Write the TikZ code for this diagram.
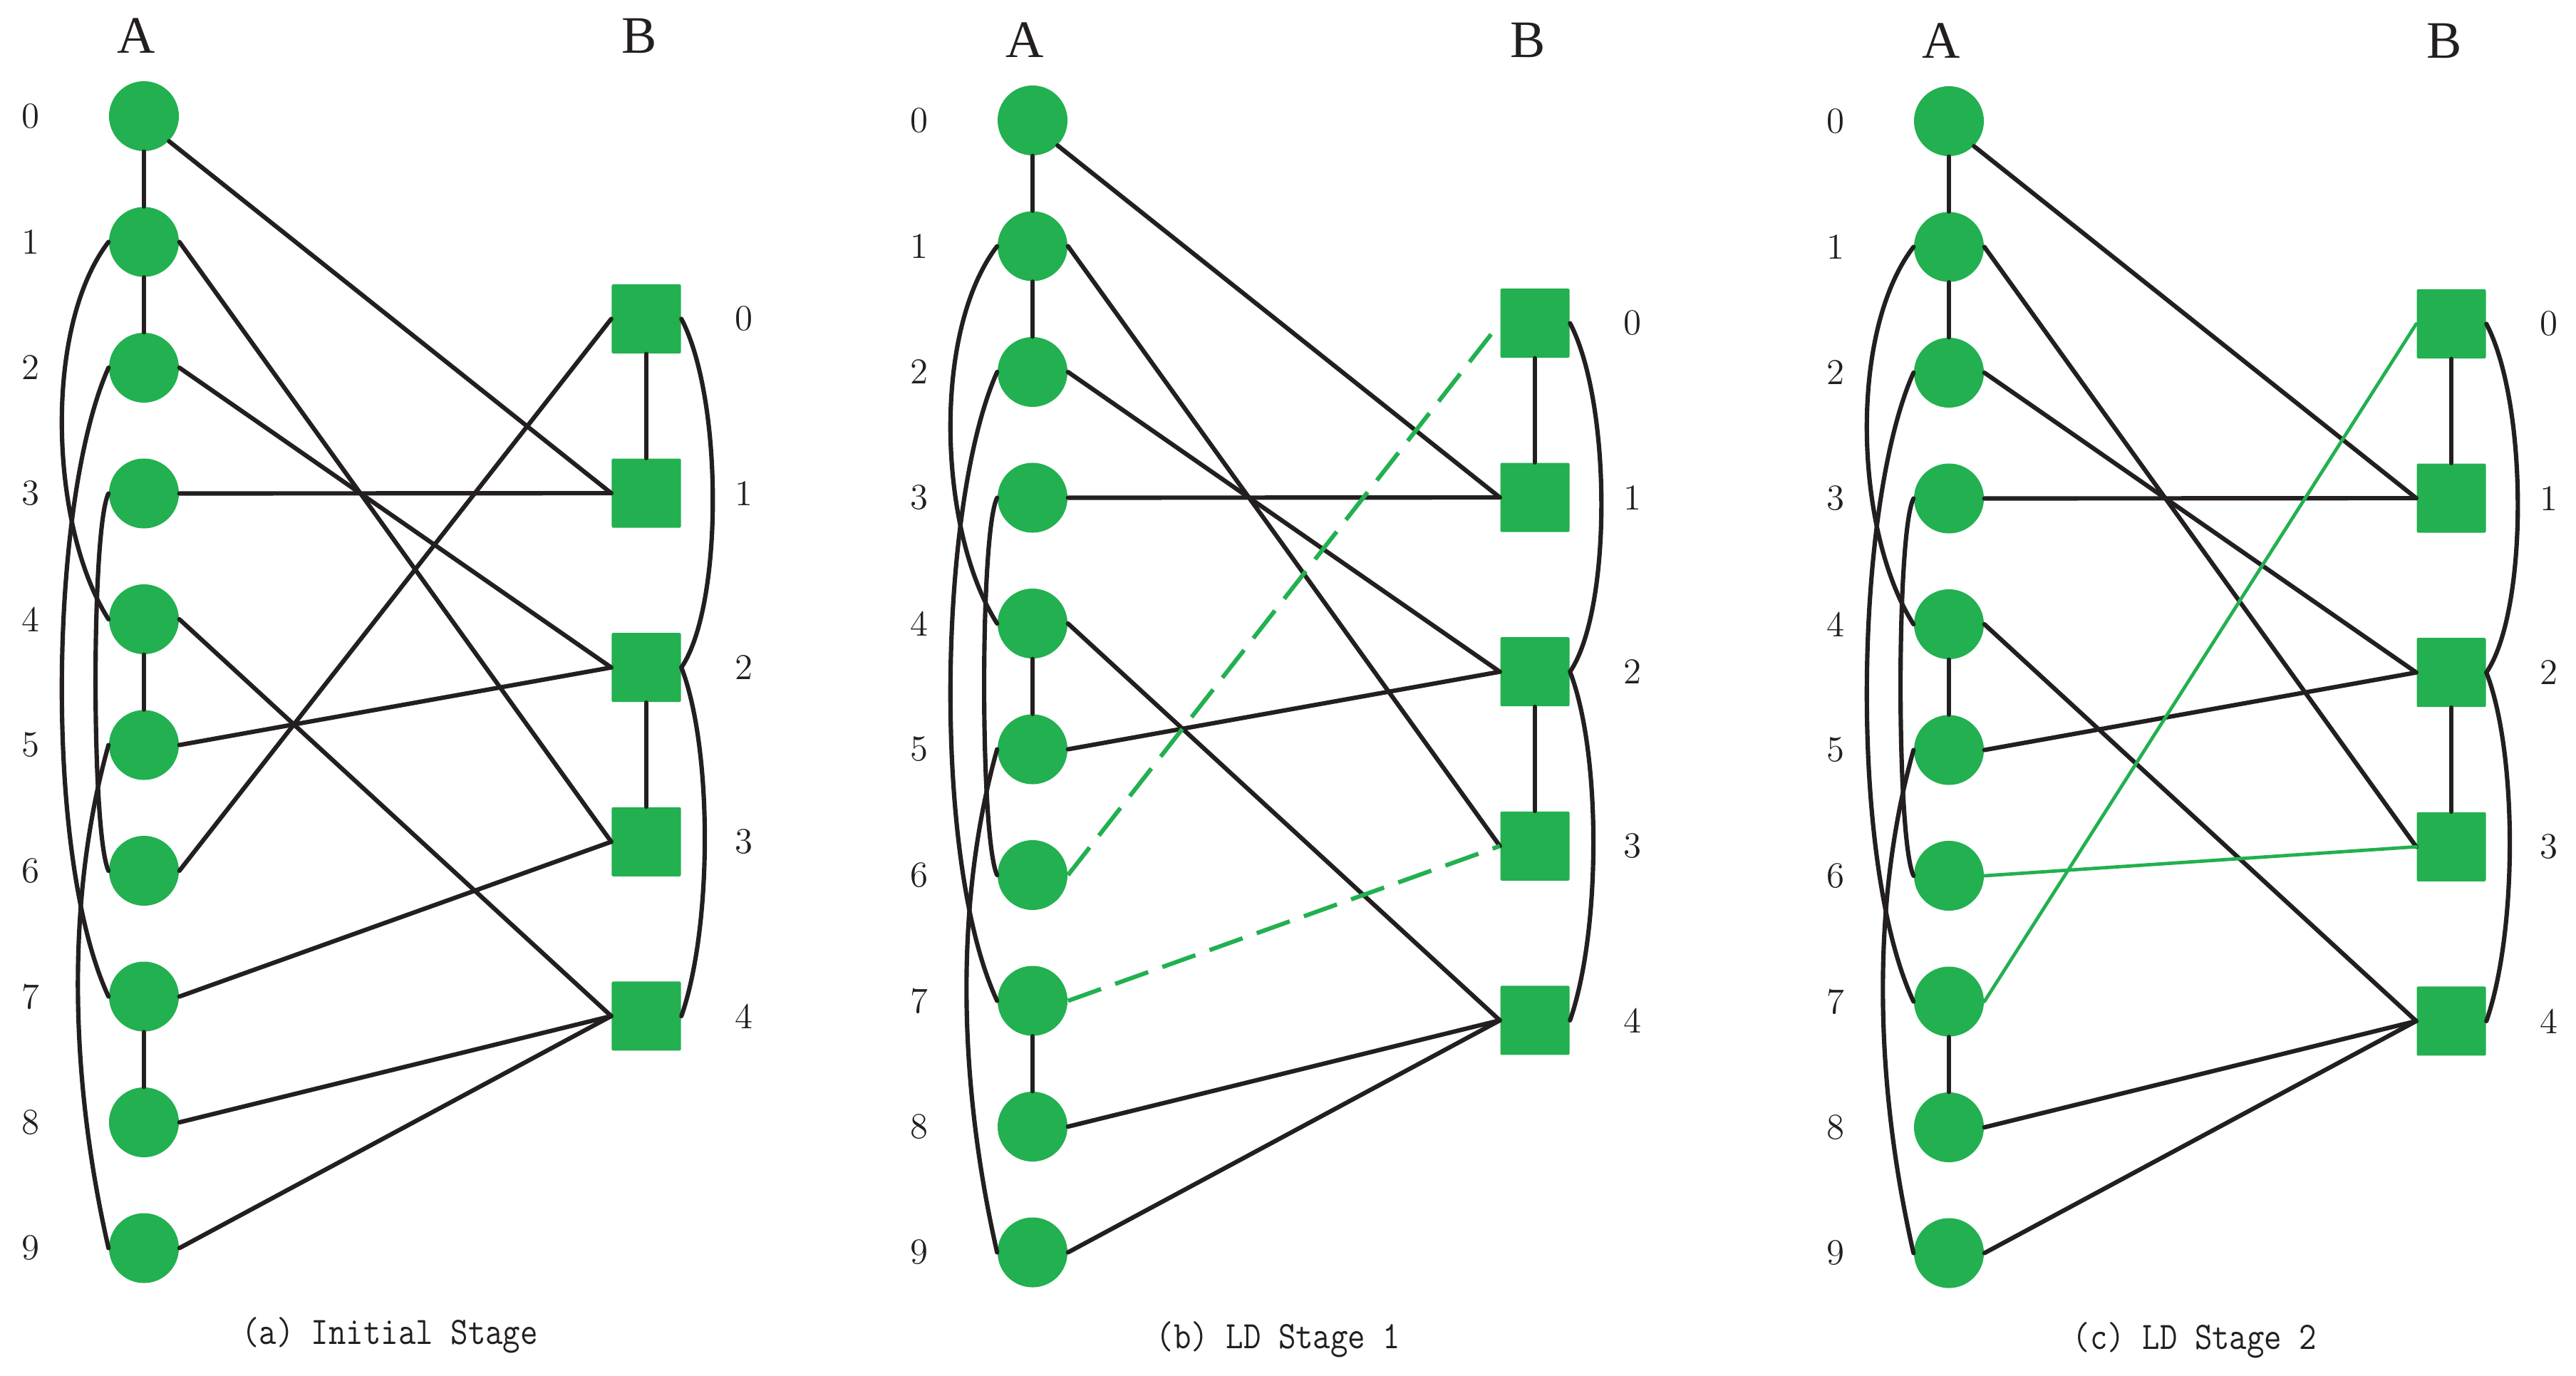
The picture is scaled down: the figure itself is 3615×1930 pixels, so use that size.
\documentclass[tikz,border=0pt]{standalone}
\usepackage{fontspec}
\newfontfamily\tnr{Liberation Serif}
\definecolor{ngreen}{RGB}{34,176,80}
\definecolor{nblack}{RGB}{35,31,32}
\tikzset{
  anode/.style={circle, fill=ngreen, minimum size=0.98cm, inner sep=0pt},
  bnode/.style={rectangle, fill=ngreen, minimum size=0.97cm, inner sep=0pt, rounded corners=0.6pt},
  blk/.style={draw=nblack, line width=1.75pt, line cap=round},
  gdash/.style={draw=ngreen, line width=1.7pt, dash pattern=on 14pt off 6pt},
  gline/.style={draw=ngreen, line width=1.35pt, line cap=round},
  idx/.style={font=\fontsize{14.5}{16}\selectfont, text=nblack, inner sep=0pt},
  head/.style={font=\tnr\fontsize{21}{24}\selectfont, text=nblack, inner sep=0pt},
  captext/.style={font=\ttfamily\fontsize{13.5}{15}\selectfont, text=nblack, inner sep=0pt, yscale=1.15},
}
\newcommand\drawpanel[2]{%
  \node[head] (#1hA) at (191,50) {A};
  \node[head] (#1hB) at (897,50) {B};
  \foreach \i in {0,...,9} {
    \node[anode] (#1a\i) at (202,{163+176.5*\i}) {};
    \node[idx] (#1la\i) at (43,{163+176.5*\i}) {\i};
  }
  \foreach \j in {0,...,4} {
    \node[bnode] (#1b\j) at (907,{447.5+244.6*\j}) {};
    \node[idx] (#1lb\j) at (1044,{447.5+244.6*\j}) {\j};
  }
  \node[captext] (#1cap) at (547,1874) {#2};
  % vertical edges
  \draw[blk] (#1a0.south) -- (#1a1.north);
  \draw[blk] (#1a1.south) -- (#1a2.north);
  \draw[blk] (#1a4.south) -- (#1a5.north);
  \draw[blk] (#1a7.south) -- (#1a8.north);
  \draw[blk] (#1b0.south) -- (#1b1.north);
  \draw[blk] (#1b2.south) -- (#1b3.north);
  % cross edges
  \draw[blk] (#1a0.south east) -- (#1b1.west);
  \draw[blk] (#1a1.east) -- (#1b3.west);
  \draw[blk] (#1a2.east) -- (#1b2.west);
  \draw[blk] (#1a3.east) -- (#1b1.west);
  \draw[blk] (#1a4.east) -- (#1b4.west);
  \draw[blk] (#1a5.east) -- (#1b2.west);
  \draw[blk] (#1a8.east) -- (#1b4.west);
  \draw[blk] (#1a9.east) -- (#1b4.west);
  % left curves
  \draw[blk] (#1a1.west) .. controls (60,460) and (70,740) .. (#1a4.west);
  \draw[blk] (#1a2.west) .. controls (70,700) and (60,1200) .. (#1a7.west);
  \draw[blk] (#1a3.west) .. controls (128,740) and (128,1170) .. (#1a6.west);
  \draw[blk] (#1a5.west) .. controls (95,1250) and (95,1500) .. (#1a9.west);
  % right curves
  \draw[blk] (#1b0.east) .. controls (1015,560) and (1015,850) .. (#1b2.east);
  \draw[blk] (#1b2.east) .. controls (1000,1050) and (1000,1300) .. (#1b4.east);
}
\begin{document}
\begin{tikzpicture}[x=0.01cm, y=-0.01cm]
  \fill[white] (0,0) rectangle (3615,1930);
  \useasboundingbox (0,0) rectangle (3615,1930);
  \begin{scope}
    \drawpanel{p}{(a) Initial Stage}
    \draw[blk] (pa6.east) -- (pb0.west);
    \draw[blk] (pa7.east) -- (pb3.west);
  \end{scope}
  \begin{scope}[shift={(1247,6)}]
    \drawpanel{q}{(b) LD Stage 1}
    \draw[gdash] (qa6.east) -- (qb0.west);
    \draw[gdash] (qa7.east) -- (qb3.west);
  \end{scope}
  \begin{scope}[shift={(2533,7)}]
    \drawpanel{r}{(c) LD Stage 2}
    \draw[gline] (ra7.east) -- (rb0.west);
    \draw[gline] (ra6.east) -- (rb3.west);
  \end{scope}
\end{tikzpicture}
\end{document}
